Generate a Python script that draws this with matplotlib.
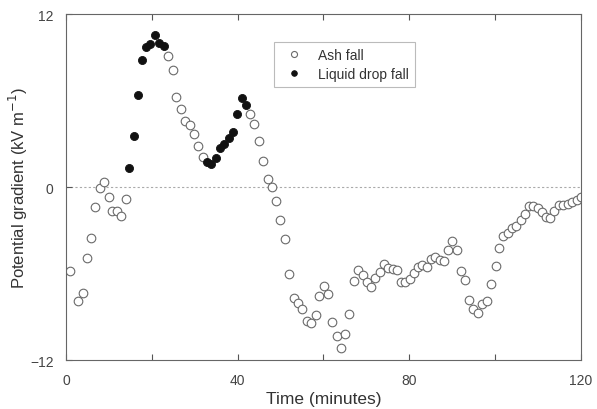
import matplotlib.pyplot as plt

plt.rcParams['font.family'] = ['Liberation Sans', 'DejaVu Sans']

# ash fall (open circles)
ash_t = [0.9, 2.9, 3.9, 5.0, 5.9, 6.8, 7.9, 8.8, 9.9, 10.8, 11.8, 12.9, 14.0,
         23.7, 24.9, 25.7, 26.8, 27.8, 28.9, 29.8, 30.8, 31.9,
         42.9, 43.9, 45.0, 45.9, 47.0, 48.0, 48.95, 49.95, 51.0, 52.0, 53.1,
         54.1, 55.1, 56.1, 57.1, 58.2, 59.0, 60.1, 61.1, 62.1, 63.1, 64.1,
         65.1, 66.0, 67.1, 68.0, 69.1, 70.1, 71.1, 72.1, 73.1, 74.1, 75.1,
         76.2, 77.1, 78.1, 79.1, 80.2, 81.2, 82.1, 83.0, 84.1, 85.1, 86.1,
         87.1, 88.1, 89.1, 90.0, 91.0, 92.0, 93.0, 94.0, 94.9, 96.0, 97.0,
         98.1, 99.1, 100.1, 101.0, 101.8, 102.9, 103.9, 104.9, 106.0, 107.0,
         107.9, 108.9, 109.9, 110.9, 111.9, 112.8, 113.8, 114.8, 115.8, 116.9,
         117.9, 119.0, 120.1]
ash_v = [-5.85, -7.9, -7.35, -4.92, -3.5, -1.39, -0.05, 0.33, -0.69, -1.64, -1.64, -2.03, -0.85,
         9.08, 8.12, 6.24, 5.43, 4.56, 4.3, 3.68, 2.87, 2.08,
         5.04, 4.4, 3.17, 1.78, 0.58, 0.0, -0.95, -2.27, -3.6, -6.0, -7.7,
         -8.07, -8.48, -9.27, -9.45, -8.85, -7.54, -6.89, -7.42, -9.36, -10.31, -11.2,
         -10.17, -8.83, -6.54, -5.76, -6.1, -6.59, -6.96, -6.29, -5.92, -5.36, -5.59,
         -5.71, -5.78, -6.57, -6.61, -6.38, -5.94, -5.52, -5.43, -5.55, -4.99, -4.83,
         -5.09, -5.15, -4.35, -3.75, -4.39, -5.83, -6.47, -7.81, -8.46, -8.74, -8.1,
         -7.88, -6.75, -5.5, -4.23, -3.42, -3.17, -2.87, -2.68, -2.31, -1.9,
         -1.3, -1.3, -1.48, -1.72, -2.08, -2.17, -1.68, -1.25, -1.21, -1.16,
         -1.05, -0.91, -0.71]

# liquid drop fall (filled circles)
drop_t = [14.75, 15.85, 16.8, 17.7, 18.6, 19.6, 20.7, 21.7, 22.8,
          32.9, 33.9, 34.9, 35.9, 36.8, 37.9, 38.9, 39.9, 40.9, 41.9]
drop_v = [1.32, 3.56, 6.4, 8.8, 9.73, 9.94, 10.56, 10.0, 9.79,
          1.71, 1.6, 2.01, 2.68, 3.0, 3.42, 3.81, 5.04, 6.15, 5.71]

fig = plt.figure(figsize=(5.97, 4.10), dpi=100)
ax = fig.add_axes([0.1106, 0.1195, 0.8625, 0.8435])

ax.axhline(0, color='#aaaaaa', lw=0.8, ls=(0, (2, 2)), zorder=0)
ax.plot(ash_t, ash_v, 'o', ms=6.2, mfc='white', mec='#6a6a6a', mew=0.8,
        ls='none', label='Ash fall')
ax.plot(drop_t, drop_v, 'o', ms=5.8, mfc='#111111', mec='#111111', mew=0.6,
        ls='none', label='Liquid drop fall')

ax.set_xlim(0, 120)
ax.set_ylim(-12, 12)
ax.set_xticks([0, 20, 40, 60, 80, 100, 120])
ax.set_xticklabels(['0', '', '40', '', '80', '', '120'])
ax.set_yticks([-12, 0, 12])
ax.tick_params(direction='in', top=True, right=False, length=4, width=0.8,
               color='#555555', labelcolor='#444444', labelsize=10, pad=9)
for s in ax.spines.values():
    s.set_color('#666666')
    s.set_linewidth(0.8)

ax.set_xlabel('Time (minutes)', fontsize=12.5, color='#333333', labelpad=3)
ax.set_ylabel('Potential gradient (kV m$^{-1}$)', fontsize=12, color='#333333', labelpad=0)

leg = ax.legend(loc='upper left', bbox_to_anchor=(0.39, 0.94), fontsize=10,
                markerscale=0.7, handletextpad=0.7, borderpad=0.45,
                labelspacing=0.35, fancybox=False, labelcolor='#333333')
leg.get_frame().set_edgecolor('#aaaaaa')
leg.get_frame().set_linewidth(0.8)

fig.savefig('out.png', dpi=100)
